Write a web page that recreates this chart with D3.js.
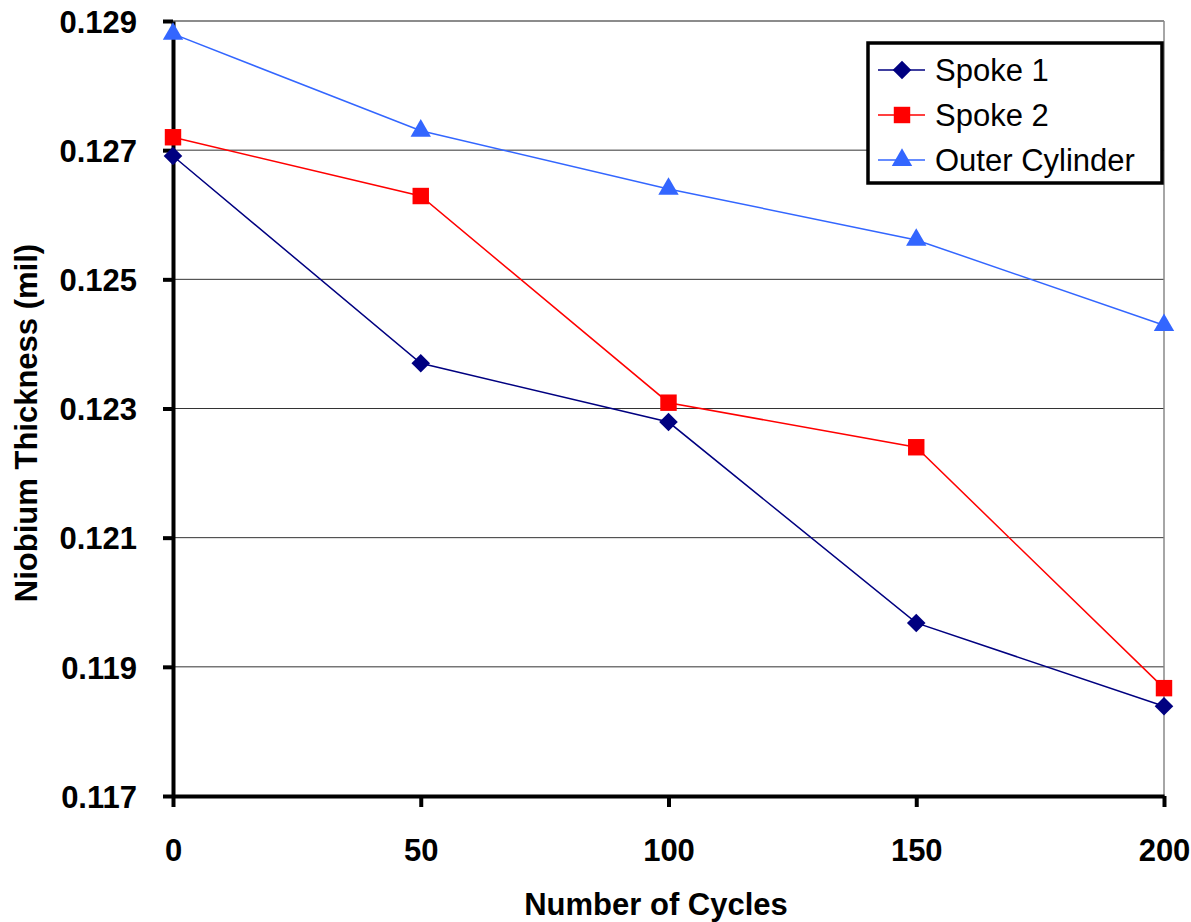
<!DOCTYPE html>
<html>
<head>
<meta charset="utf-8">
<script src="https://cdn.jsdelivr.net/npm/d3@7/dist/d3.min.js"></script>
<style>
  html, body { margin: 0; padding: 0; background: #fff; }
  svg { display: block; font-family: Arial, "Liberation Sans", sans-serif; }
</style>
</head>
<body>
<svg id="chart" width="1191" height="922"></svg>
<script>
// Niobium thickness measured after thermal cycling
const cycles = [0, 50, 100, 150, 200];
const spoke1 = [0.12691, 0.12370, 0.12279, 0.11968, 0.11839];
const spoke2 = [0.12720, 0.12629, 0.12309, 0.12240, 0.11867];
const outerCylinder = [0.12880, 0.12730, 0.12640, 0.12561, 0.12429];
const seriesNames = ["Spoke 1", "Spoke 2", "Outer Cylinder"];
const yTicks = [0.117, 0.119, 0.121, 0.123, 0.125, 0.127, 0.129];
const xTicks = [0, 50, 100, 150, 200];

(function () {
  const series = [
    { name: seriesNames[0], values: spoke1, color: "#000080", shape: "diamond" },
    { name: seriesNames[1], values: spoke2, color: "#ff0000", shape: "square" },
    { name: seriesNames[2], values: outerCylinder, color: "#3366ff", shape: "triangle" }
  ];

  const fontSize = 31;
  const svg = d3.select("#chart");
  const plotLeft = 173, plotRight = 1164, plotTop = 21, plotBottom = 796;

  const x = d3.scaleLinear().domain([0, 200]).range([plotLeft, plotRight]);
  const y = d3.scaleLinear().domain([0.117, 0.129]).range([plotBottom, plotTop]);

  // Horizontal gridlines
  svg.append("g").selectAll("line").data(yTicks.slice(1)).join("line")
    .attr("x1", plotLeft).attr("x2", plotRight)
    .attr("y1", d => y(d)).attr("y2", d => y(d))
    .attr("stroke", "#333").attr("stroke-width", 1);

  // Plot frame on top and right
  svg.append("line").attr("x1", plotLeft).attr("x2", plotRight).attr("y1", plotTop).attr("y2", plotTop)
    .attr("stroke", "#888").attr("stroke-width", 1.5);
  svg.append("line").attr("x1", plotRight).attr("x2", plotRight).attr("y1", plotTop).attr("y2", plotBottom)
    .attr("stroke", "#888").attr("stroke-width", 1.5);

  // Y axis
  const yAxis = svg.append("g").attr("transform", `translate(${plotLeft},0)`)
    .call(d3.axisLeft(y).tickValues(yTicks).tickFormat(d3.format(".3f")).tickSize(10).tickSizeOuter(0));
  yAxis.select(".domain").attr("stroke", "#000").attr("stroke-width", 4);
  yAxis.selectAll(".tick line").attr("stroke", "#000").attr("stroke-width", 4);
  yAxis.selectAll(".tick text").attr("x", -36).attr("dy", "0.36em")
    .attr("font-size", fontSize).attr("font-weight", "bold").attr("fill", "#000")
    .attr("font-family", "Arial, 'Liberation Sans', sans-serif");

  // X axis
  const xAxis = svg.append("g").attr("transform", `translate(0,${plotBottom})`)
    .call(d3.axisBottom(x).tickValues(xTicks).tickFormat(d3.format("d")).tickSize(11).tickSizeOuter(0));
  xAxis.select(".domain").attr("stroke", "#000").attr("stroke-width", 4);
  xAxis.selectAll(".tick line").attr("stroke", "#000").attr("stroke-width", 4);
  xAxis.selectAll(".tick text").attr("y", 54).attr("dy", "0.36em")
    .attr("font-size", fontSize).attr("font-weight", "bold").attr("fill", "#000")
    .attr("font-family", "Arial, 'Liberation Sans', sans-serif");

  // Axis titles
  svg.append("text").attr("x", 656).attr("y", 915)
    .attr("text-anchor", "middle").attr("font-size", fontSize).attr("font-weight", "bold")
    .text("Number of Cycles");
  svg.append("text").attr("transform", "translate(37,423) rotate(-90)")
    .attr("text-anchor", "middle").attr("font-size", fontSize).attr("font-weight", "bold")
    .text("Niobium Thickness (mil)");

  const symbolFor = {
    diamond: d3.symbol().type(d3.symbolDiamond2).size(220),
    square: d3.symbol().type(d3.symbolSquare).size(270),
    triangle: d3.symbol().type(d3.symbolTriangle).size(180)
  };

  const line = d3.line().x((d, i) => x(cycles[i])).y(d => y(d));

  series.forEach(s => {
    svg.append("path").datum(s.values)
      .attr("d", line).attr("fill", "none")
      .attr("stroke", s.color).attr("stroke-width", 1.5);
    svg.append("g").selectAll("path").data(s.values).join("path")
      .attr("transform", (d, i) => `translate(${x(cycles[i])},${y(d)})`)
      .attr("d", symbolFor[s.shape]())
      .attr("fill", s.color);
  });

  // Legend
  const lg = svg.append("g");
  lg.append("rect").attr("x", 868).attr("y", 43).attr("width", 294).attr("height", 140)
    .attr("fill", "#fff").attr("stroke", "#000").attr("stroke-width", 3.5);
  series.forEach((s, i) => {
    const ly = 70 + i * 45;
    lg.append("line").attr("x1", 878).attr("x2", 925).attr("y1", ly).attr("y2", ly)
      .attr("stroke", s.color).attr("stroke-width", 1.5);
    lg.append("path").attr("transform", `translate(902,${ly})`)
      .attr("d", symbolFor[s.shape]()).attr("fill", s.color);
    lg.append("text").attr("x", 935).attr("y", ly).attr("dy", "0.36em")
      .attr("font-size", 31).attr("fill", "#000").text(s.name);
  });
})();
</script>
</body>
</html>
